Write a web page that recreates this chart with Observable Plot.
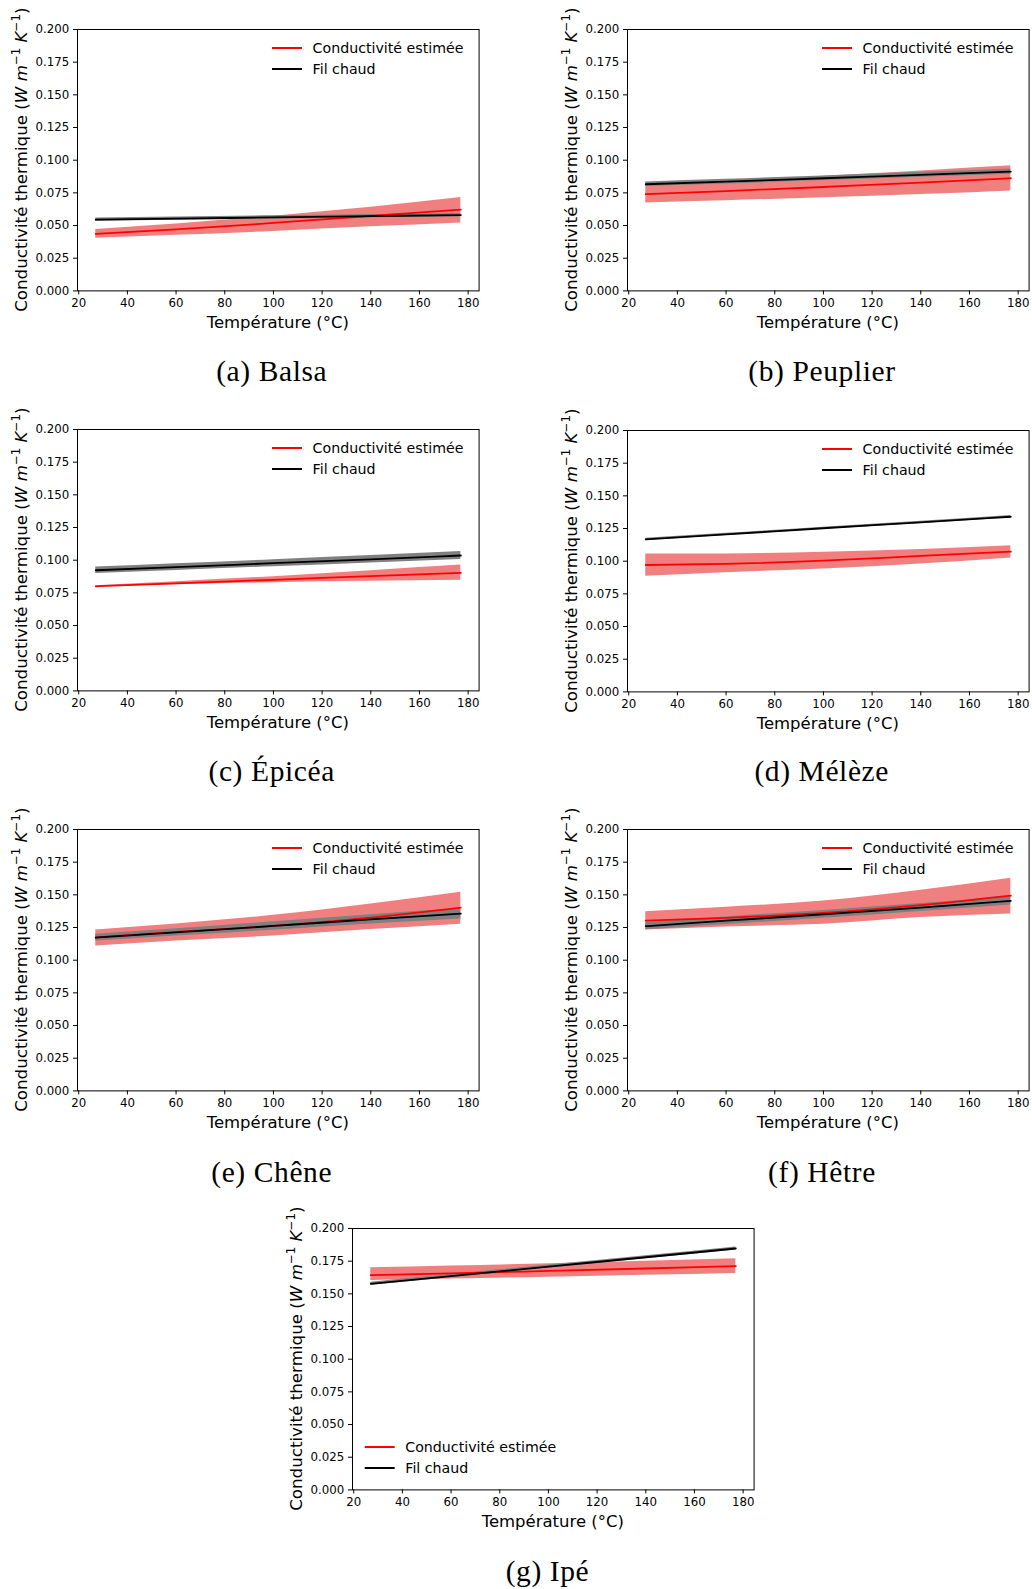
<!DOCTYPE html>
<html><head><meta charset="utf-8">
<script src="https://cdn.jsdelivr.net/npm/d3@7"></script>
<script src="https://cdn.jsdelivr.net/npm/@observablehq/plot@0.6"></script>
<style>
html,body{margin:0;padding:0;background:#fff;}
#page{position:relative;width:1032px;height:1589px;overflow:hidden;background:#fff;}
.panel{position:absolute;}
.panel svg{overflow:visible;max-width:none !important;}
#captions{position:absolute;left:0;top:0;}
</style></head><body><div id="page"></div>
<script>
// ---------- data ----------
const temps = [27, 60, 100, 140, 177];
const xTicks = [20, 40, 60, 80, 100, 120, 140, 160, 180];
const yTicks = [0, 0.025, 0.05, 0.075, 0.1, 0.125, 0.15, 0.175, 0.2];
const legendLabels = ["Conductivité estimée", "Fil chaud"];
const captions = ["(a) Balsa", "(b) Peuplier", "(c) Épicéa", "(d) Mélèze", "(e) Chêne", "(f) Hêtre", "(g) Ipé"];

const balsaEst = [0.0436, 0.0470, 0.0520, 0.0573, 0.0622];
const balsaLo  = [0.0403, 0.0425, 0.0455, 0.0490, 0.0520];
const balsaHi  = [0.0470, 0.0512, 0.0572, 0.0640, 0.0715];
const balsaFil = [0.0545, 0.0553, 0.0562, 0.0572, 0.0580];
const balsaFilLo = [0.0533, 0.0541, 0.0550, 0.0560, 0.0568];
const balsaFilHi = [0.0557, 0.0565, 0.0574, 0.0584, 0.0592];

const peuplierEst = [0.0740, 0.0764, 0.0795, 0.0828, 0.0862];
const peuplierLo  = [0.0673, 0.0690, 0.0712, 0.0737, 0.0765];
const peuplierHi  = [0.0805, 0.0838, 0.0878, 0.0918, 0.0957];
const peuplierFil = [0.0816, 0.0836, 0.0862, 0.0888, 0.0913];
const peuplierFilLo = [0.0798, 0.0818, 0.0844, 0.0869, 0.0893];
const peuplierFilHi = [0.0834, 0.0854, 0.0880, 0.0907, 0.0933];

const epiceaEst = [0.0800, 0.0823, 0.0850, 0.0878, 0.0903];
const epiceaLo  = [0.0795, 0.0812, 0.0828, 0.0838, 0.0846];
const epiceaHi  = [0.0805, 0.0836, 0.0874, 0.0920, 0.0963];
const epiceaFil = [0.0923, 0.0947, 0.0977, 0.1007, 0.1036];
const epiceaFilLo = [0.0899, 0.0922, 0.0950, 0.0979, 0.1006];
const epiceaFilHi = [0.0947, 0.0972, 0.1004, 0.1035, 0.1066];

const melezeEst = [0.0971, 0.0980, 0.1004, 0.1040, 0.1073];
const melezeLo  = [0.0884, 0.0912, 0.0940, 0.0978, 0.1024];
const melezeHi  = [0.1055, 0.1056, 0.1068, 0.1090, 0.1119];
const melezeFil = [0.1167, 0.1205, 0.1252, 0.1297, 0.1340];
const melezeFilLo = [0.1159, 0.1197, 0.1244, 0.1289, 0.1331];
const melezeFilHi = [0.1175, 0.1213, 0.1260, 0.1305, 0.1349];

const cheneEst = [0.1175, 0.1216, 0.1262, 0.1326, 0.1402];
const cheneLo  = [0.1109, 0.1147, 0.1185, 0.1234, 0.1275];
const cheneHi  = [0.1231, 0.1277, 0.1343, 0.1430, 0.1520];
const cheneFil = [0.1173, 0.1213, 0.1262, 0.1312, 0.1356];
const cheneFilLo = [0.1147, 0.1185, 0.1230, 0.1276, 0.1316];
const cheneFilHi = [0.1199, 0.1241, 0.1294, 0.1348, 0.1396];

const hetreEst = [0.1303, 0.1324, 0.1361, 0.1421, 0.1494];
const hetreLo  = [0.1231, 0.1254, 0.1275, 0.1326, 0.1354];
const hetreHi  = [0.1370, 0.1405, 0.1453, 0.1535, 0.1627];
const hetreFil = [0.1260, 0.1302, 0.1351, 0.1403, 0.1454];
const hetreFilLo = [0.1232, 0.1273, 0.1321, 0.1372, 0.1422];
const hetreFilHi = [0.1288, 0.1331, 0.1381, 0.1434, 0.1486];

const ipeEst = [0.1643, 0.1657, 0.1675, 0.1694, 0.1712];
const ipeLo  = [0.1602, 0.1613, 0.1627, 0.1642, 0.1656];
const ipeHi  = [0.1699, 0.1713, 0.1730, 0.1750, 0.1768];
const ipeFil = [0.1577, 0.1636, 0.1708, 0.1780, 0.1847];
const ipeFilLo = [0.1565, 0.1624, 0.1696, 0.1768, 0.1835];
const ipeFilHi = [0.1589, 0.1648, 0.1720, 0.1792, 0.1859];

// ---------- layout ----------
const ML = 77, MT = 29, MR = 12, MB = 47;
const FW = 401.6, FH = 261.4;
const panels = [
  {cap: 0, fl: 76.7,  ft: 29.3,   cx: 271.7, cy: 381,  legend: "top", d: [balsaEst, balsaLo, balsaHi, balsaFil, balsaFilLo, balsaFilHi]},
  {cap: 1, fl: 626.7, ft: 29.3,   cx: 822,   cy: 381,  legend: "top", d: [peuplierEst, peuplierLo, peuplierHi, peuplierFil, peuplierFilLo, peuplierFilHi]},
  {cap: 2, fl: 76.7,  ft: 428.7,  cx: 271.7, cy: 781,  legend: "top", d: [epiceaEst, epiceaLo, epiceaHi, epiceaFil, epiceaFilLo, epiceaFilHi]},
  {cap: 3, fl: 626.7, ft: 430,    cx: 821.7, cy: 781,  legend: "top", d: [melezeEst, melezeLo, melezeHi, melezeFil, melezeFilLo, melezeFilHi]},
  {cap: 4, fl: 76.7,  ft: 828.7,  cx: 271.7, cy: 1181.5, legend: "top", d: [cheneEst, cheneLo, cheneHi, cheneFil, cheneFilLo, cheneFilHi]},
  {cap: 5, fl: 626.7, ft: 828.7,  cx: 822,   cy: 1181.5, legend: "top", d: [hetreEst, hetreLo, hetreHi, hetreFil, hetreFilLo, hetreFilHi]},
  {cap: 6, fl: 351.7, ft: 1227.7, cx: 547.5, cy: 1581, legend: "bottom", d: [ipeEst, ipeLo, ipeHi, ipeFil, ipeFilLo, ipeFilHi]}
];

const page = document.getElementById("page");
const FONT = "'DejaVu Sans', sans-serif";
const RED = "#ff0000", BAND = "#f08080", GRAYBAND = "#808080";

for (const p of panels) {
  const [est, lo, hi, fil, flo, fhi] = p.d;
  const rows = temps.map((t, i) => ({t, est: est[i], lo: lo[i], hi: hi[i], fil: fil[i], flo: flo[i], fhi: fhi[i]}));
  const curve = "monotone-x";
  const W = ML + FW + MR, H = MT + FH + MB;
  const chart = Plot.plot({
    width: W,
    height: H,
    marginLeft: ML, marginTop: MT, marginRight: MR, marginBottom: MB,
    style: {fontFamily: FONT, fontSize: "11.8px", color: "#000", background: "transparent", overflow: "visible", maxWidth: "none"},
    x: {domain: [19.5, 184.5], ticks: xTicks, tickSize: 4, tickPadding: 4.2, label: null, tickFormat: d3.format("d")},
    y: {domain: [0, 0.2], ticks: yTicks, tickSize: 4, tickPadding: 4.2, label: null, tickFormat: d3.format(".3f")},
    marks: [
      Plot.areaY(rows, {x: "t", y1: "lo", y2: "hi", fill: BAND, curve}),
      Plot.areaY(rows, {x: "t", y1: "flo", y2: "fhi", fill: GRAYBAND, curve}),
      Plot.lineY(rows, {x: "t", y: "est", stroke: RED, strokeWidth: 1.8, curve}),
      Plot.lineY(rows, {x: "t", y: "fil", stroke: "#000", strokeWidth: 1.8, curve}),
      Plot.frame({stroke: "#000", strokeWidth: 1})
    ]
  });
  chart.style.maxWidth = "none";
  chart.style.width = W + "px";
  chart.style.height = H + "px";
  const wrap = document.createElement("div");
  wrap.className = "panel";
  wrap.style.left = (p.fl - ML) + "px";
  wrap.style.top = (p.ft - MT) + "px";
  wrap.style.width = W + "px";
  wrap.style.height = H + "px";
  wrap.appendChild(chart);
  page.appendChild(wrap);

  const svg = d3.select(chart);
  // x label
  svg.append("text")
    .attr("x", ML + FW / 2).attr("y", MT + FH + 37.6)
    .attr("text-anchor", "middle")
    .attr("font-family", FONT).attr("font-size", 16.5).attr("fill", "#000")
    .text("Température (°C)");
  // y label with math
  const yx = ML - 49.8, yy = MT + FH / 2;
  const yl = svg.append("text")
    .attr("transform", `translate(${yx},${yy}) rotate(-90)`)
    .attr("text-anchor", "middle")
    .attr("font-family", FONT).attr("font-size", 16.7).attr("fill", "#000");
  yl.append("tspan").text("Conductivité thermique (");
  yl.append("tspan").attr("font-style", "italic").text("W");
  yl.append("tspan").text(" ");
  yl.append("tspan").attr("font-style", "italic").text("m");
  yl.append("tspan").attr("font-size", 11.8).attr("dy", -6.8).text("−1");
  yl.append("tspan").attr("dy", 6.8).text(" ");
  yl.append("tspan").attr("font-style", "italic").text("K");
  yl.append("tspan").attr("font-size", 11.8).attr("dy", -6.8).text("−1");
  yl.append("tspan").attr("dy", 6.8).text(")");

  // legend
  let lx0, ly0;
  if (p.legend === "top") { lx0 = ML + 195; ly0 = MT + 19; }
  else { lx0 = ML + 12.7; ly0 = MT + 219; }
  const lg = svg.append("g").attr("text-anchor", "start");
  [RED, "#000"].forEach((c, i) => {
    const y = ly0 + i * 21;
    lg.append("line").attr("x1", lx0).attr("x2", lx0 + 30).attr("y1", y).attr("y2", y)
      .attr("stroke", c).attr("stroke-width", 2);
    lg.append("text").attr("x", lx0 + 40.6).attr("y", y).attr("dy", "0.36em")
      .attr("text-anchor", "start")
      .attr("font-family", FONT).attr("font-size", 14.2).attr("fill", "#000")
      .text(legendLabels[i]);
  });
}

// captions
const capSvg = d3.select(page).append("svg").attr("id", "captions")
  .attr("width", 1032).attr("height", 1589).style("pointer-events", "none");
for (const p of panels) {
  capSvg.append("text")
    .attr("x", p.cx).attr("y", p.cy)
    .attr("text-anchor", "middle")
    .attr("font-family", "'Liberation Serif', 'Times New Roman', serif")
    .attr("font-size", 29.5).attr("letter-spacing", 0.6).attr("fill", "#000")
    .text(captions[p.cap]);
}
</script>
</body></html>
